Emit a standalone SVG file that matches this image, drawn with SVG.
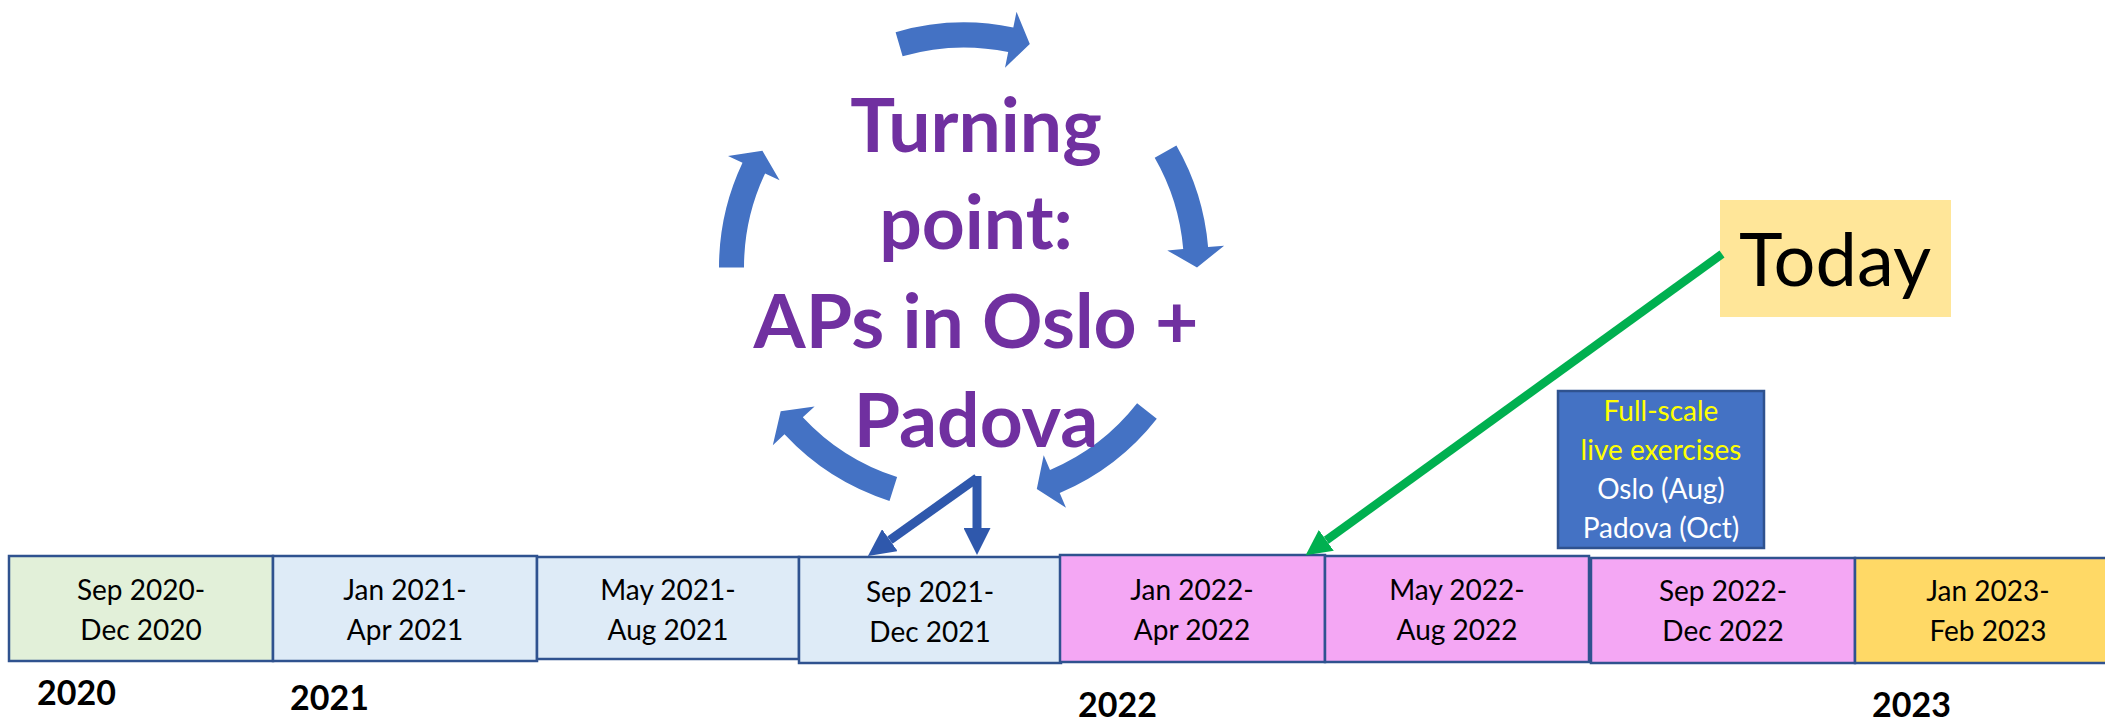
<svg xmlns="http://www.w3.org/2000/svg" width="2105" height="721" viewBox="0 0 2105 721">
<style>
  .box{stroke:#2F528F;stroke-width:2.5}
  .lbl{font-family:Lato,"Liberation Sans",sans-serif;font-size:28px;fill:#000;text-anchor:middle}
  .yr{font-family:Lato,"Liberation Sans",sans-serif;font-weight:bold;font-size:34px;fill:#000}
  .cyc{fill:#4472C4}
  .tp{font-family:Lato,"Liberation Sans",sans-serif;font-weight:bold;font-size:75px;fill:#7030A0;text-anchor:middle}
  .ex{font-family:Lato,"Liberation Sans",sans-serif;font-size:28px;text-anchor:middle}
  .conn-blue{stroke:#2F58AC;stroke-width:9;fill:none}
  .conn-green{stroke:#00B050;stroke-width:8.5;fill:none}
</style>
<defs>
  <marker id="ahBlue" markerWidth="3" markerHeight="3" refX="0" refY="1.5" orient="auto" markerUnits="strokeWidth">
    <path d="M0,0 L3,1.5 L0,3 Z" fill="#2F58AC"/>
  </marker>
  <marker id="ahGreen" markerWidth="3" markerHeight="3" refX="0" refY="1.5" orient="auto" markerUnits="strokeWidth">
    <path d="M0,0 L3,1.5 L0,3 Z" fill="#00B050"/>
  </marker>
</defs>
<rect x="0" y="0" width="2105" height="721" fill="#FFFFFF"/>

<!-- cycle arrows -->
<g id="cycle">
  <path class="cyc" d="M895.6,32.2 A245,245 0 0 1 1013.3,27.5 L1016.5,11.8 L1029.8,44.0 L1005.0,67.7 L1008.2,52.0 A220,220 0 0 0 902.6,56.2 Z"/>
  <path class="cyc" d="M1176.4,145.4 A245,245 0 0 1 1208.1,247.0 L1224.1,245.7 L1197,267.5 L1167.3,250.4 L1183.2,249.1 A220,220 0 0 0 1154.7,157.8 Z"/>
  <path class="cyc" d="M1156.8,418.7 A245,245 0 0 1 1059.7,493.0 L1066.0,507.8 L1036.8,488.9 L1043.7,455.3 L1050.0,470.0 A220,220 0 0 0 1137.1,403.3 Z"/>
  <path class="cyc" d="M889.5,500.9 A245,245 0 0 1 784.5,434.3 L772.8,445.2 L780.7,411.3 L814.6,406.4 L802.8,417.3 A220,220 0 0 0 897.1,477.1 Z"/>
  <path class="cyc" d="M719,267.5 A245,245 0 0 1 742.5,162.8 L728.0,155.9 L762.4,150.7 L779.6,180.3 L765.1,173.5 A220,220 0 0 0 744,267.5 Z"/>
</g>

<g id="turning-point">
  <text class="tp" x="976" y="152">Turning</text>
  <text class="tp" x="976" y="249">point:</text>
  <text class="tp" x="976" y="348">APs in Oslo +</text>
  <text class="tp" x="976" y="447">Padova</text>
</g>

<g id="today">
  <rect x="1720" y="200" width="231" height="117" fill="#FFE699"/>
  <text x="1835" y="286" font-family="Lato, 'Liberation Sans', sans-serif" font-size="74" text-anchor="middle" fill="#000">Today</text>
</g>

<g id="exercises">
  <rect class="box" x="1558" y="391" width="206" height="157" fill="#4472C4"/>
  <text class="ex" x="1661" y="421" fill="#FFFF00">Full-scale</text>
  <text class="ex" x="1661" y="460" fill="#FFFF00">live exercises</text>
  <text class="ex" x="1661" y="499" fill="#FFFFFF">Oslo (Aug)</text>
  <text class="ex" x="1661" y="538" fill="#FFFFFF">Padova (Oct)</text>
</g>

<g id="p1"><rect class="box" x="9" y="556" width="264" height="105" fill="#E2F0D9"/>
  <text class="lbl" x="141" y="600">Sep 2020-</text><text class="lbl" x="141" y="640">Dec 2020</text></g>
<g id="p2"><rect class="box" x="273" y="556" width="264" height="105" fill="#DEEBF7"/>
  <text class="lbl" x="405" y="600">Jan 2021-</text><text class="lbl" x="405" y="640">Apr 2021</text></g>
<g id="p3"><rect class="box" x="537" y="557" width="262" height="102" fill="#DEEBF7"/>
  <text class="lbl" x="668" y="600">May 2021-</text><text class="lbl" x="668" y="640">Aug 2021</text></g>
<g id="p4"><rect class="box" x="799" y="557" width="262" height="106" fill="#DEEBF7"/>
  <text class="lbl" x="930" y="602">Sep 2021-</text><text class="lbl" x="930" y="642">Dec 2021</text></g>
<g id="p5"><rect class="box" x="1060" y="555" width="265" height="107" fill="#F4A7F4"/>
  <text class="lbl" x="1192" y="600">Jan 2022-</text><text class="lbl" x="1192" y="640">Apr 2022</text></g>
<g id="p6"><rect class="box" x="1325" y="556" width="264" height="106" fill="#F4A7F4"/>
  <text class="lbl" x="1457" y="600">May 2022-</text><text class="lbl" x="1457" y="640">Aug 2022</text></g>
<g id="p7"><rect class="box" x="1591" y="558" width="264" height="105" fill="#F4A7F4"/>
  <text class="lbl" x="1723" y="601">Sep 2022-</text><text class="lbl" x="1723" y="641">Dec 2022</text></g>
<g id="p8"><rect class="box" x="1855" y="558" width="265" height="105" fill="#FFD966"/>
  <text class="lbl" x="1988" y="601">Jan 2023-</text><text class="lbl" x="1988" y="641">Feb 2023</text></g>

<g id="years">
  <text class="yr" x="37" y="705">2020</text>
  <text class="yr" x="290" y="710">2021</text>
  <text class="yr" x="1078" y="717">2022</text>
  <text class="yr" x="1872" y="717">2023</text>
</g>

<g id="connectors">
  <line class="conn-blue" x1="977" y1="476" x2="977" y2="528" marker-end="url(#ahBlue)"/>
  <line class="conn-blue" x1="977" y1="478" x2="889.9" y2="540.2" marker-end="url(#ahBlue)"/>
  <line class="conn-green" x1="1722" y1="254" x2="1326.3" y2="540.3" marker-end="url(#ahGreen)"/>
</g>
</svg>
